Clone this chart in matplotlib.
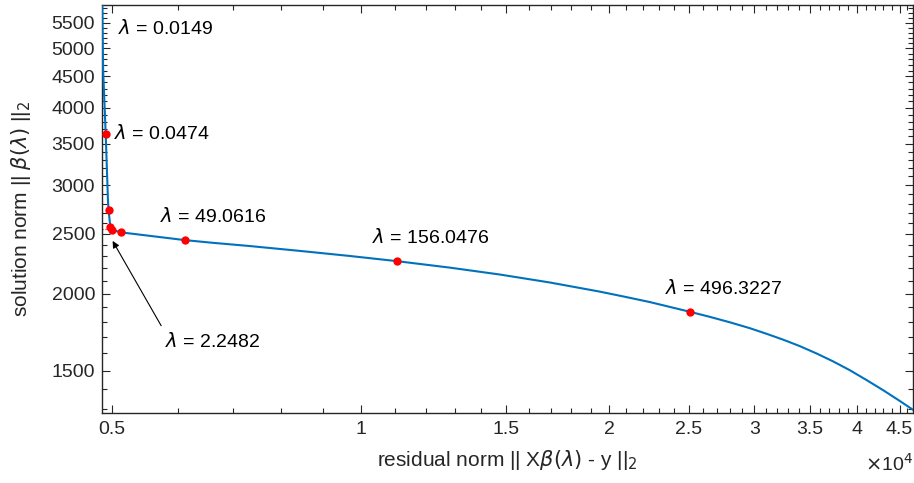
import matplotlib
matplotlib.use("Agg")
import matplotlib.pyplot as plt
from matplotlib.ticker import FixedLocator, FixedFormatter, NullFormatter

plt.rcParams['font.family'] = ['Liberation Sans', 'DejaVu Sans']
plt.rcParams['mathtext.fontset'] = 'dejavusans'

# L-curve: residual norm vs solution norm
resid_curve = [4862, 4874, 4909, 4941, 4949, 4973, 5000, 5123, 6129, 6615,
               7335, 8435, 9698, 11060, 12820, 14740, 16950, 19490, 20890,
               22410, 25100, 26490, 28020, 29620, 31060, 32480, 34060, 35710,
               37340, 39150, 41050, 43040, 45010, 46680, 48280]
soln_curve = [6000, 4628, 3636, 2825, 2732, 2568, 2537, 2514, 2442, 2418,
              2389, 2346, 2302, 2258, 2204, 2148, 2085, 2015, 1977,
              1938, 1868, 1834, 1797, 1758, 1721, 1685, 1644, 1599,
              1554, 1503, 1448, 1393, 1340, 1297, 1257]

# Marked regularisation parameters
resid_pts = [4909, 4949, 4973, 5000, 5123, 6129, 11060, 25100]
soln_pts = [3636, 2732, 2568, 2537, 2514, 2442, 2258, 1868]

lam_values = ['0.0149', '0.0474', '2.2482', '49.0616', '156.0476', '496.3227']

x_major = [5000, 10000, 15000, 20000, 25000, 30000, 35000, 40000, 45000]
x_labels = ['0.5', '1', '1.5', '2', '2.5', '3', '3.5', '4', '4.5']
y_major = [1500, 2000, 2500, 3000, 3500, 4000, 4500, 5000, 5500]
y_labels = ['1500', '2000', '2500', '3000', '3500', '4000', '4500', '5000', '5500']

blue = '#0072BD'
red = '#FF0000'
ink = '#262626'

fig = plt.figure(figsize=(9.14, 4.83), dpi=100)
ax = fig.add_axes([102/914, (483-412.5)/483, (913-102)/914, (412.5-4.5)/483])
ax.set_xscale('log')
ax.set_yscale('log')
ax.set_xlim(4859, 46720)
ax.set_ylim(1283, 5887)

# data drawn above the axes frame
ax.plot(resid_curve, soln_curve, color=blue, lw=1.5, zorder=3,
        solid_joinstyle='round')
ax.plot([4859, 4965], [2543, 2543], ':', color=red, lw=0.8, zorder=1)
ax.plot(resid_pts, soln_pts, 'o', color=red, ms=6, mec='none', zorder=4)

txt = dict(fontsize=14, color='black')
# labels beside / above their points
ax.text(0.0197, 0.942, r'$\lambda$ = ' + lam_values[0], transform=ax.transAxes,
        ha='left', va='center', **txt)
ax.annotate(r'$\lambda$ = ' + lam_values[1], (resid_pts[0], soln_pts[0]),
            xytext=(6, 0), textcoords='offset points', ha='left', va='center', **txt)
for i, lab in zip([5, 6, 7], lam_values[3:]):
    ax.annotate(r'$\lambda$ = ' + lab, (resid_pts[i], soln_pts[i]),
                xytext=(-18, 17), textcoords='offset points',
                ha='left', va='center', **txt)
ax.annotate(r'$\lambda$ = ' + lam_values[2], xy=(5005, 2435), xytext=(5790, 1672),
            ha='left', va='center',
            arrowprops=dict(arrowstyle='-|>', color='black', lw=0.8,
                            relpos=(0, 1), shrinkA=3, shrinkB=0,
                            mutation_scale=10),
            **txt)

# ticks
ax.xaxis.set_major_locator(FixedLocator(x_major))
ax.xaxis.set_major_formatter(FixedFormatter(x_labels))
ax.xaxis.set_minor_locator(FixedLocator([v for v in range(5000, 47000, 1000)
                                         if v not in x_major]))
ax.xaxis.set_minor_formatter(NullFormatter())
ax.yaxis.set_major_locator(FixedLocator(y_major))
ax.yaxis.set_major_formatter(FixedFormatter(y_labels))
ax.yaxis.set_minor_locator(FixedLocator([v for v in range(1300, 5900, 100)
                                         if v not in y_major]))
ax.yaxis.set_minor_formatter(NullFormatter())

ax.tick_params(which='both', direction='in', top=True, right=True,
               color=ink, labelcolor=ink, labelsize=14, width=0.8)
ax.tick_params(which='major', length=6)
ax.tick_params(which='minor', length=3.5)
ax.tick_params(axis='x', which='major', pad=6)
ax.tick_params(axis='y', which='major', pad=5)
for s in ax.spines.values():
    s.set_color(ink)
    s.set_linewidth(1.0)

ax.set_xlabel(r'residual norm || X$\beta(\lambda)$ - y ||$_2$', fontsize=15,
              color=ink)
ax.set_ylabel(r'solution norm || $\beta(\lambda)$ ||$_2$', fontsize=15,
              color=ink)
ax.xaxis.set_label_coords(0.5, -0.088)
ax.yaxis.set_label_coords(-0.085, 0.5)
ax.text(1.0, -0.143, r'$\times$10$^4$', transform=ax.transAxes, ha='right',
        va='baseline', fontsize=14, color=ink)

fig.savefig('out.png', dpi=100)
